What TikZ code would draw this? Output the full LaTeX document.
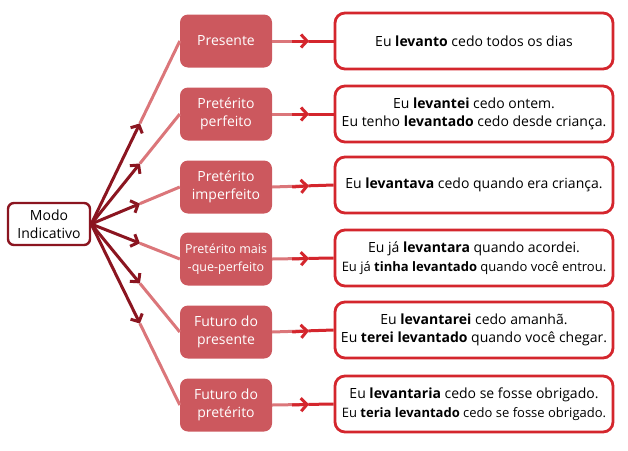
\documentclass[tikz,border=0pt]{standalone}
\usepackage{fontspec}
\setmainfont{Open Sans}
\usepackage{tikz}
\usetikzlibrary{arrows.meta,positioning,calc}
\usepackage{xcolor}
\definecolor{modored}{RGB}{139,21,32}
\definecolor{tensefill}{RGB}{204,88,94}
\definecolor{tenselight}{RGB}{219,118,122}
\definecolor{examplered}{RGB}{212,38,45}

\begin{document}
\begin{tikzpicture}[
    x=1pt, y=-1pt,
    txt/.style={font=\fontsize{14}{18.5}\selectfont},
    modo/.style={draw=modored, line width=2.4pt, fill=white, rounded corners=6pt,
        minimum width=82pt, minimum height=42pt, align=center, inner sep=1pt, txt},
    tense/.style={fill=tensefill, rounded corners=8pt, text=white,
        minimum width=92pt, minimum height=53pt, align=center, inner sep=1pt, txt},
    example/.style={draw=examplered, line width=2.8pt, fill=white, rounded corners=10pt,
        minimum width=278pt, minimum height=56pt, align=center, inner sep=2pt, txt},
    tip/.style={-{Straight Barb[length=6pt,width=13pt]}},
    link/.style={line width=3pt}
]
\useasboundingbox (0,0) rectangle (628,450);

% Modo
\node[modo] (modo) at (49,224) {Modo\\Indicativo};

% Tempos
\node[tense] (t1) at (226,41) {Presente};
\node[tense] (t2) at (226,114) {Pretérito\\perfeito};
\node[tense] (t3) at (226,187) {Pretérito\\imperfeito};
\node[tense, font=\fontsize{12.5}{17.5}\selectfont] (t4) at (226,259) {Pretérito mais\\-que-perfeito};
\node[tense] (t5) at (226,332) {Futuro do\\presente};
\node[tense] (t6) at (226,405) {Futuro do\\pretérito};

% Exemplos
\node[example] (e1) at (474,41) {Eu \textbf{levanto} cedo todos os dias};
\node[example] (e2) at (474,114) {Eu \textbf{levantei} cedo ontem.\\Eu tenho \textbf{levantado} cedo desde criança.};
\node[example] (e3) at (474,185) {Eu \textbf{levantava} cedo quando era criança.};
\node[example] (e4) at (474,258) {Eu já \textbf{levantara} quando acordei.\\{\fontsize{13}{17}\selectfont Eu já \textbf{tinha levantado} quando você entrou.}};
\node[example] (e5) at (474,330) {Eu \textbf{levantarei} cedo amanhã.\\Eu \textbf{terei levantado} quando você chegar.};
\node[example] (e6) at (474,404) {Eu \textbf{levantaria} cedo se fosse obrigado.\\{\fontsize{13}{17}\selectfont Eu \textbf{teria levantado} cedo se fosse obrigado.}};

% Setas
\foreach \i in {1,...,6}{
  \path (modo.east) -- (t\i.west) coordinate[pos=0.55] (m\i);
  \draw[link, tenselight] (m\i) -- (t\i.west);
  \draw[link, modored, tip] (modo.east) -- (m\i);
  \path (t\i.east) -- (e\i.west) coordinate[pos=0.6] (n\i);
  \draw[link, tenselight] (t\i.east) -- (n\i);
  \draw[link, examplered, tip] (t\i.east) ++(20,0) -- (n\i);
  \draw[link, examplered] (n\i) -- (e\i.west);
}
\end{tikzpicture}
\end{document}
